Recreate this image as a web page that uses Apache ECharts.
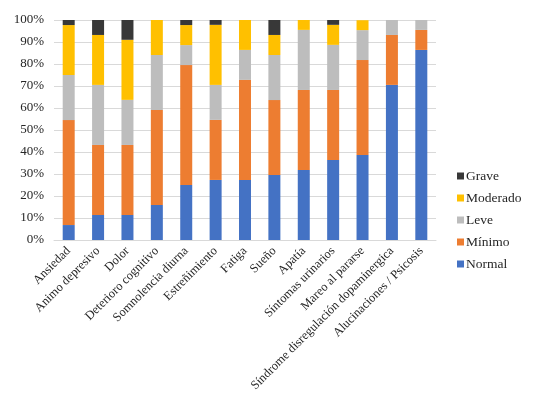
<!DOCTYPE html>
<html><head><meta charset="utf-8">
<script src="https://cdn.jsdelivr.net/npm/echarts@6/dist/echarts.min.js"></script>
<style>html,body{margin:0;padding:0;background:#fff}#c{width:535px;height:417px}</style>
</head><body><div id="c"></div>
<script>
const categories = ['Ansiedad','Animo depresivo','Dolor','Deterioro cognitivo','Somnolencia diurna','Estreñimiento','Fatiga','Sueño','Apatía','Síntomas urinarios','Mareo al pararse','Síndrome disregulación dopaminergica','Alucinaciones / Psicosis'];
const normal   = [6.8, 11.4, 11.4, 15.9, 25.0, 27.3, 27.3, 29.5, 31.8, 36.4, 38.6, 70.5, 86.4];
const minimo   = [47.7, 31.8, 31.8, 43.2, 54.5, 27.3, 45.5, 34.1, 36.4, 31.8, 43.2, 22.7, 9.1];
const leve     = [20.5, 27.3, 20.5, 25.0, 9.1, 15.9, 13.6, 20.5, 27.3, 20.5, 13.6, 6.8, 4.5];
const moderado = [22.7, 22.7, 27.3, 15.9, 9.1, 27.3, 13.6, 9.1, 4.5, 9.1, 4.5, 0, 0];
const grave    = [2.3, 6.8, 9.1, 0, 2.3, 2.3, 0, 6.8, 0, 2.3, 0, 0, 0];
const yTicks = [0,10,20,30,40,50,60,70,80,90,100];

const font = 'Liberation Serif';
const txt = '#262626';
const mk = (name, data, color) => ({name, type:'bar', stack:'s', data, barWidth:12,
  itemStyle:{color}, emphasis:{disabled:true}});
const chart = echarts.init(document.getElementById('c'), null, {renderer:'canvas'});
chart.setOption({
  animation:false,
  textStyle:{fontFamily:font},
  grid:{left:54, right:99, top:20, bottom:177},
  legend:{orient:'vertical', left:452, top:164, itemWidth:7, itemHeight:7, itemGap:8,
    data:['Grave','Moderado','Leve','Mínimo','Normal'],
    icon:'rect',
    textStyle:{fontFamily:font, fontSize:13.5, color:txt, padding:[0,0,0,-3]}},
  xAxis:{type:'category', data:categories,
    axisLine:{lineStyle:{color:'#D9D9D9'}},
    axisTick:{length:5, lineStyle:{color:'#D9D9D9'}},
    axisLabel:{rotate:45, interval:0, fontFamily:font, fontSize:12.5, color:txt, margin:9}},
  yAxis:{type:'value', min:0, max:100, interval:10,
    axisLine:{show:false}, axisTick:{show:false},
    splitLine:{lineStyle:{color:'#D9D9D9'}},
    axisLabel:{formatter: v => yTicks.includes(v) ? v + '%' : '', fontFamily:font, fontSize:13, color:txt, margin:10}},
  series:[
    mk('Normal', normal, '#4472C4'),
    mk('Mínimo', minimo, '#ED7D31'),
    mk('Leve', leve, '#BDBDBD'),
    mk('Moderado', moderado, '#FFC000'),
    mk('Grave', grave, '#383838')
  ]
});
</script></body></html>
